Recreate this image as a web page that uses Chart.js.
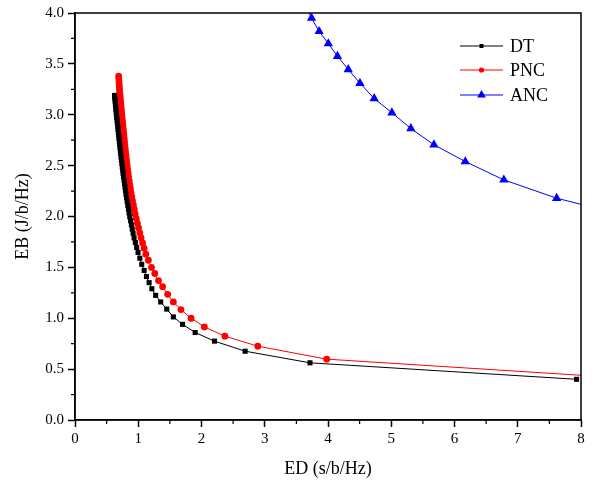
<!DOCTYPE html>
<html>
<head>
<meta charset="utf-8">
<script src="https://cdn.jsdelivr.net/npm/chart.js@4/dist/chart.umd.min.js"></script>
<style>
  body { margin: 0; background: #fff; }
  #wrap { width: 600px; height: 485px; }
</style>
</head>
<body>
<div id="wrap"><canvas id="chart" width="600" height="485"></canvas></div>
<script>
/* ----- dados ----- */
const seriesNames = ['DT', 'PNC', 'ANC'];

const dtX = [
  0.625, 0.629, 0.634, 0.638, 0.642, 0.646, 0.651, 0.655,
  0.660, 0.665, 0.670, 0.675, 0.680, 0.685, 0.690,
  0.695, 0.701, 0.706, 0.711, 0.717, 0.722, 0.728,
  0.734, 0.741, 0.747, 0.754, 0.760, 0.767,
  0.775, 0.783, 0.790, 0.798, 0.806, 0.815,
  0.825, 0.835, 0.845, 0.855, 0.866,
  0.879, 0.892, 0.905, 0.919, 0.934,
  0.954, 0.975, 0.997,
  1.025, 1.055, 1.093, 1.130, 1.172, 1.215, 1.275, 1.355,
  1.450, 1.555, 1.700, 1.900, 2.205, 2.690, 3.715, 7.930
];
const dtY = [
  3.190, 3.163, 3.136, 3.109, 3.082, 3.055, 3.028, 3.000,
  2.972, 2.944, 2.915, 2.886, 2.857, 2.828, 2.799,
  2.769, 2.739, 2.709, 2.678, 2.647, 2.616, 2.585,
  2.553, 2.521, 2.489, 2.456, 2.423, 2.390,
  2.356, 2.322, 2.288, 2.253, 2.218, 2.182,
  2.146, 2.110, 2.073, 2.035, 1.997,
  1.958, 1.918, 1.877, 1.835, 1.790,
  1.744, 1.696, 1.647,
  1.590, 1.530, 1.470, 1.410, 1.350, 1.290, 1.225, 1.160,
  1.090, 1.013, 0.940, 0.860, 0.775, 0.676, 0.562, 0.400
];

const pncX = [
  0.690, 0.693, 0.696, 0.699, 0.701, 0.704, 0.707,
  0.712, 0.716, 0.720, 0.724, 0.729, 0.733, 0.737,
  0.742, 0.747, 0.752, 0.757, 0.762, 0.767, 0.772,
  0.777, 0.782, 0.788, 0.793, 0.799, 0.805,
  0.811, 0.818, 0.825, 0.832, 0.840,
  0.848, 0.857, 0.867, 0.876, 0.886,
  0.897, 0.910, 0.924, 0.938, 0.952,
  0.968, 0.986, 1.005, 1.024,
  1.045, 1.068, 1.092, 1.120, 1.160, 1.210, 1.262, 1.320, 1.385,
  1.465, 1.555, 1.675, 1.835, 2.045, 2.370, 2.890, 3.980, 8.600
];
const pncY = [
  3.380, 3.353, 3.326, 3.299, 3.272, 3.245, 3.218,
  3.190, 3.162, 3.133, 3.104, 3.075, 3.046, 3.017,
  2.987, 2.957, 2.926, 2.895, 2.864, 2.833, 2.801,
  2.769, 2.737, 2.704, 2.671, 2.637, 2.603,
  2.569, 2.534, 2.499, 2.463, 2.427,
  2.390, 2.352, 2.314, 2.275, 2.235,
  2.195, 2.154, 2.112, 2.069, 2.025,
  1.980, 1.934, 1.887, 1.839,
  1.790, 1.740, 1.689, 1.630, 1.570, 1.500, 1.440, 1.370, 1.310,
  1.235, 1.160, 1.085, 1.000, 0.915, 0.824, 0.725, 0.598, 0.416
];

const ancX = [3.64, 3.74, 3.86, 4.005, 4.15, 4.32, 4.505, 4.73, 5.01, 5.31, 5.675, 6.17, 6.78, 7.615, 8.70];
const ancY = [4.07, 3.95, 3.82, 3.70, 3.575, 3.445, 3.31, 3.16, 3.02, 2.865, 2.705, 2.54, 2.36, 2.18, 2.01];

const xTicks = [0, 1, 2, 3, 4, 5, 6, 7, 8];
const yTicks = [0, 0.5, 1, 1.5, 2, 2.5, 3, 3.5, 4];

/* ----- utilidades ----- */
const pares = (xs, ys) => xs.map((x, i) => ({ x, y: ys[i] }));
const fonte = 'Liberation Serif, Times New Roman, serif';

function desenharMarcador(ctx, estilo, x, y, r, cor) {
  ctx.save();
  ctx.fillStyle = cor;
  ctx.beginPath();
  if (estilo === 'rect') {
    const s = r * Math.SQRT1_2;
    ctx.rect(x - s, y - s, 2 * s, 2 * s);
  } else if (estilo === 'triangle') {
    ctx.moveTo(x, y - r);
    ctx.lineTo(x + r * Math.sqrt(3) / 2, y + r / 2);
    ctx.lineTo(x - r * Math.sqrt(3) / 2, y + r / 2);
    ctx.closePath();
  } else {
    ctx.arc(x, y, r, 0, Math.PI * 2);
  }
  ctx.fill();
  ctx.restore();
}

/* moldura + ticks menores */
const molduraPlugin = {
  id: 'moldura',
  afterDraw(chart) {
    const { ctx, chartArea: a, scales } = chart;
    ctx.save();
    ctx.strokeStyle = '#000';
    ctx.lineWidth = 1.5;
    ctx.strokeRect(a.left, a.top, a.right - a.left, a.bottom - a.top);
    ctx.lineWidth = 1.2;
    ctx.beginPath();
    for (let v = 0.5; v < 8; v += 1) {
      const px = scales.x.getPixelForValue(v);
      ctx.moveTo(px, a.bottom);
      ctx.lineTo(px, a.bottom + 4);
    }
    for (let v = 0.25; v < 4; v += 0.5) {
      const py = scales.y.getPixelForValue(v);
      ctx.moveTo(a.left, py);
      ctx.lineTo(a.left - 4, py);
    }
    ctx.stroke();
    ctx.restore();
  }
};

/* legenda com linha + marcador */
const legendaPlugin = {
  id: 'legendaLinha',
  afterDatasetsDraw(chart) {
    const { ctx, chartArea: a } = chart;
    const x0 = a.right - 121, x1 = a.right - 78, tx = a.right - 71;
    const ys = [a.top + 33, a.top + 57, a.top + 82];
    const raios = [2.8, 2.6, 5];
    chart.data.datasets.forEach((ds, i) => {
      const y = ys[i];
      ctx.save();
      ctx.strokeStyle = ds.borderColor;
      ctx.lineWidth = 1;
      ctx.beginPath();
      ctx.moveTo(x0, y);
      ctx.lineTo(x1, y);
      ctx.stroke();
      desenharMarcador(ctx, ds.pointStyle, (x0 + x1) / 2, y, raios[i], ds.borderColor);
      ctx.fillStyle = '#000';
      ctx.font = '18px ' + fonte;
      ctx.textBaseline = 'middle';
      ctx.fillText(ds.label, tx, y + 1);
      ctx.restore();
    });
  }
};

const ctx = document.getElementById('chart').getContext('2d');
new Chart(ctx, {
  type: 'scatter',
  data: {
    datasets: [
      {
        label: seriesNames[0], data: pares(dtX, dtY), showLine: true,
        borderColor: '#000', backgroundColor: '#000', borderWidth: 1,
        pointStyle: 'rect', pointRadius: 3.6, pointBorderWidth: 0
      },
      {
        label: seriesNames[1], data: pares(pncX, pncY), showLine: true,
        borderColor: '#ff0000', backgroundColor: '#ff0000', borderWidth: 1,
        pointStyle: 'circle', pointRadius: 3.4, pointBorderWidth: 0
      },
      {
        label: seriesNames[2], data: pares(ancX, ancY), showLine: true,
        borderColor: '#0000ff', backgroundColor: '#0000ff', borderWidth: 1,
        pointStyle: 'triangle', pointRadius: 5.4, pointBorderWidth: 0
      }
    ]
  },
  options: {
    responsive: false,
    animation: false,
    layout: { padding: { left: 0, right: 19, top: 12, bottom: 0 } },
    plugins: {
      legend: { display: false },
      tooltip: { enabled: false }
    },
    scales: {
      x: {
        type: 'linear', min: 0, max: 8,
        afterBuildTicks: s => { s.ticks = xTicks.map(v => ({ value: v })); },
        afterFit: s => { s.height = 65; },
        grid: { drawOnChartArea: false, tickLength: 7, tickWidth: 1.5, tickColor: '#000' },
        border: { color: '#000', width: 1.5 },
        ticks: { color: '#000', font: { family: fonte, size: 15 }, padding: 3, maxRotation: 0,
                 callback: v => String(v) },
        title: { display: true, text: 'ED (s/b/Hz)', color: '#000',
                 font: { family: fonte, size: 18 }, padding: { top: 0, bottom: 5 } }
      },
      y: {
        type: 'linear', min: 0, max: 4,
        afterBuildTicks: s => { s.ticks = yTicks.map(v => ({ value: v })); },
        afterFit: s => { s.width = 75; },
        grid: { drawOnChartArea: false, tickLength: 7, tickWidth: 1.5, tickColor: '#000' },
        border: { color: '#000', width: 1.5 },
        ticks: { color: '#000', font: { family: fonte, size: 15 }, padding: 4,
                 callback: v => v.toFixed(1) },
        title: { display: true, text: 'EB (J/b/Hz)', color: '#000',
                 font: { family: fonte, size: 18 }, padding: { top: 12, bottom: 0 } }
      }
    }
  },
  plugins: [molduraPlugin, legendaPlugin]
});
</script>
</body>
</html>
